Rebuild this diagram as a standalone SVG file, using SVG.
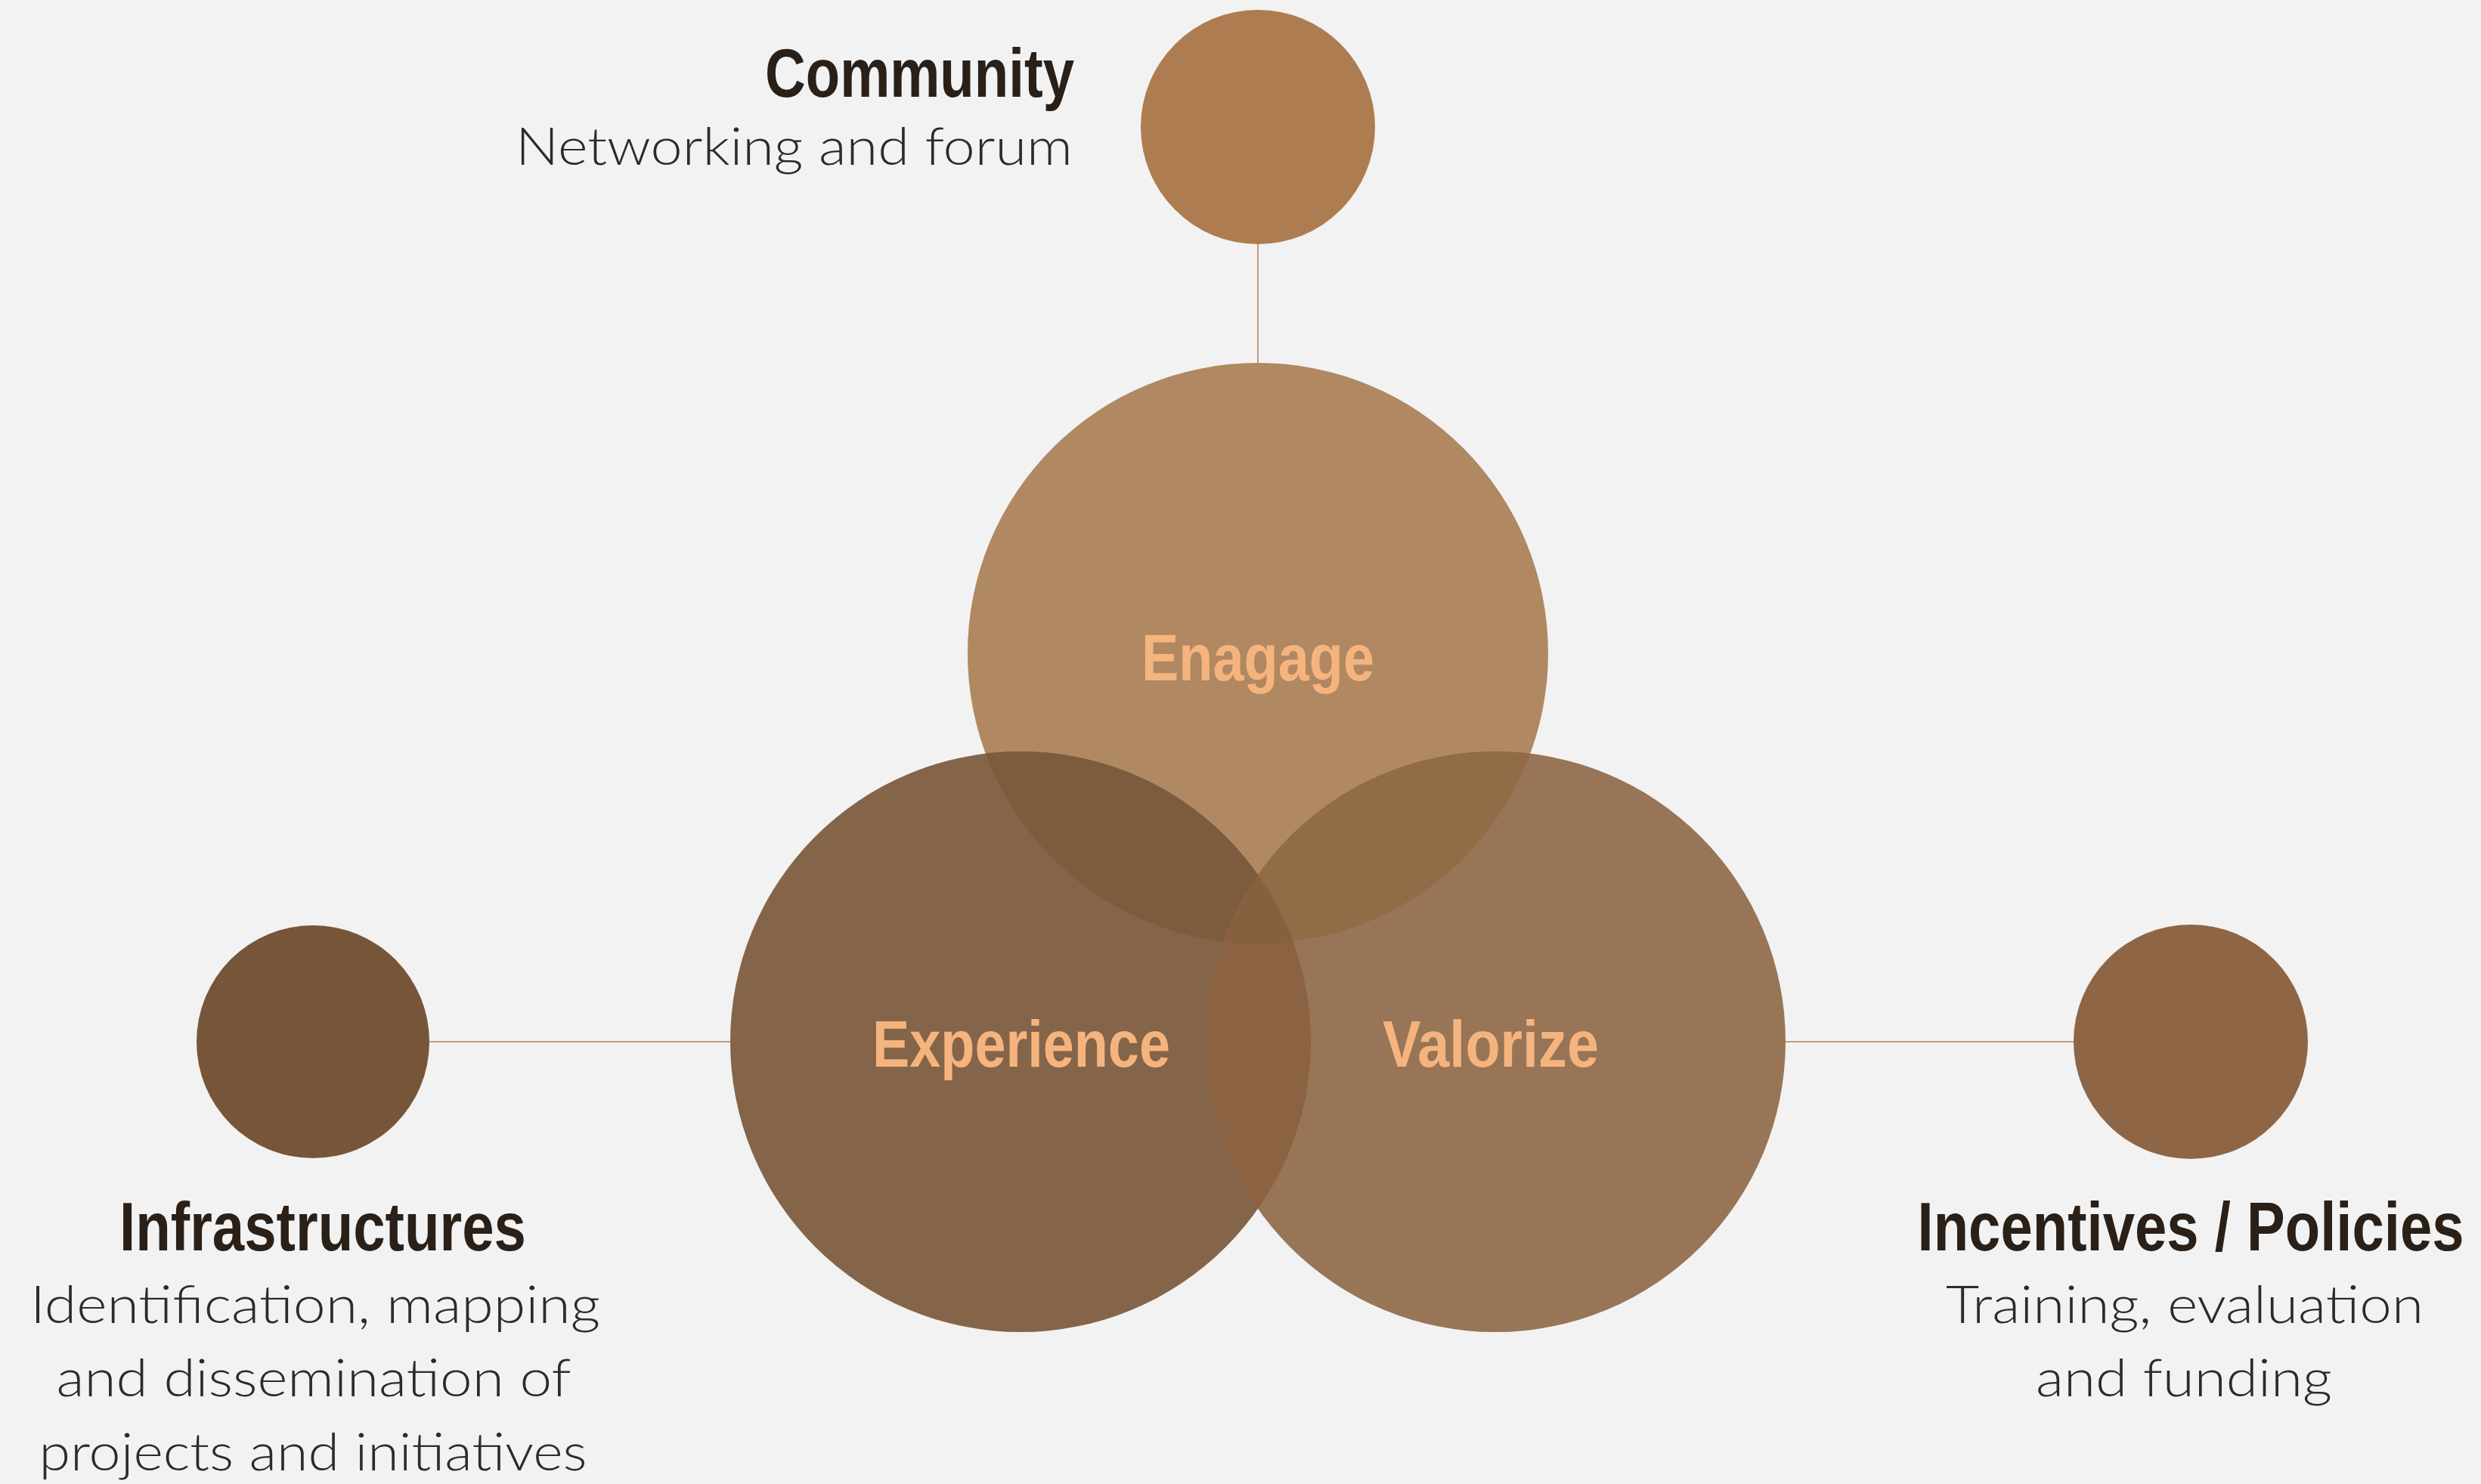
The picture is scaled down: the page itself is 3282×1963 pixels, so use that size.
<svg xmlns="http://www.w3.org/2000/svg" width="3282" height="1963" viewBox="0 0 3282 1963">
<style>
.title{font-family:"Liberation Sans Narrow","Liberation Sans",Arial,sans-serif;font-weight:bold;font-size:90px;fill:#2A2018}
.sub{font-family:Lato,"Open Sans","Liberation Sans",sans-serif;font-weight:300;font-size:68px;fill:#2E2A27}
.inner{font-family:"Liberation Sans Narrow","Liberation Sans",Arial,sans-serif;font-weight:bold;font-size:88px;fill:#F5B47E;text-anchor:middle}
.conn{stroke:#C49A7E;stroke-width:2;fill:none}
</style>
<defs>
<clipPath id="cEng"><circle cx="1664" cy="864" r="384"/></clipPath>
<clipPath id="cExp"><circle cx="1350" cy="1378" r="384"/></clipPath>
<clipPath id="cVal"><circle cx="1978" cy="1378" r="384"/></clipPath>
</defs>
<rect width="3282" height="1963" fill="#F2F2F2"/>
<g id="connectors">
<line class="conn" x1="1664" y1="322" x2="1664" y2="480"/>
<line class="conn" x1="567" y1="1378" x2="966" y2="1378"/>
<line class="conn" x1="2362" y1="1378" x2="2743" y2="1378"/>
</g>
<g id="engage">
<circle cx="1664" cy="864" r="384" fill="#B08862"/>
</g>
<g id="experience">
<circle cx="1350" cy="1378" r="384" fill="#84654A"/>
</g>
<g id="valorize">
<circle cx="1978" cy="1378" r="384" fill="#977556"/>
</g>
<g id="overlaps">
<g clip-path="url(#cEng)"><circle cx="1350" cy="1378" r="384" fill="#7D5C3E"/></g>
<g clip-path="url(#cEng)"><circle cx="1978" cy="1378" r="384" fill="#926B47"/></g>
<g clip-path="url(#cExp)"><circle cx="1978" cy="1378" r="384" fill="#8B6242"/></g>
<g clip-path="url(#cEng)"><g clip-path="url(#cExp)"><circle cx="1978" cy="1378" r="384" fill="#86603F"/></g></g>
</g>
<g id="engage-label"><text class="inner" x="1664" y="900" textLength="308" lengthAdjust="spacingAndGlyphs">Enagage</text></g>
<g id="experience-label"><text class="inner" x="1351" y="1411" textLength="394" lengthAdjust="spacingAndGlyphs">Experience</text></g>
<g id="valorize-label"><text class="inner" x="1972" y="1411" textLength="286" lengthAdjust="spacingAndGlyphs">Valorize</text></g>
<g id="community">
<circle cx="1664" cy="168" r="155" fill="#AD7D51"/>
<text class="title" x="1421" y="128" text-anchor="end" textLength="409" lengthAdjust="spacingAndGlyphs">Community</text>
<text class="sub" x="1419" y="218" text-anchor="end" textLength="737" lengthAdjust="spacingAndGlyphs">Networking and forum</text>
</g>
<g id="infrastructures">
<circle cx="414" cy="1378" r="154" fill="#775539"/>
<text class="title" x="427" y="1654" text-anchor="middle" textLength="538" lengthAdjust="spacingAndGlyphs">Infrastructures</text>
<text class="sub" x="417" y="1750" text-anchor="middle" textLength="754" lengthAdjust="spacingAndGlyphs">Identification, mapping</text>
<text class="sub" x="415" y="1847" text-anchor="middle" textLength="681" lengthAdjust="spacingAndGlyphs">and dissemination of</text>
<text class="sub" x="414" y="1945" text-anchor="middle" textLength="725" lengthAdjust="spacingAndGlyphs">projects and initiatives</text>
</g>
<g id="incentives">
<circle cx="2898" cy="1378" r="155" fill="#8E6646"/>
<text class="title" x="2898" y="1654" text-anchor="middle" textLength="723" lengthAdjust="spacingAndGlyphs">Incentives / Policies</text>
<text class="sub" x="2890" y="1750" text-anchor="middle" textLength="632" lengthAdjust="spacingAndGlyphs">Training, evaluation</text>
<text class="sub" x="2889" y="1847" text-anchor="middle" textLength="392" lengthAdjust="spacingAndGlyphs">and funding</text>
</g>
</svg>
